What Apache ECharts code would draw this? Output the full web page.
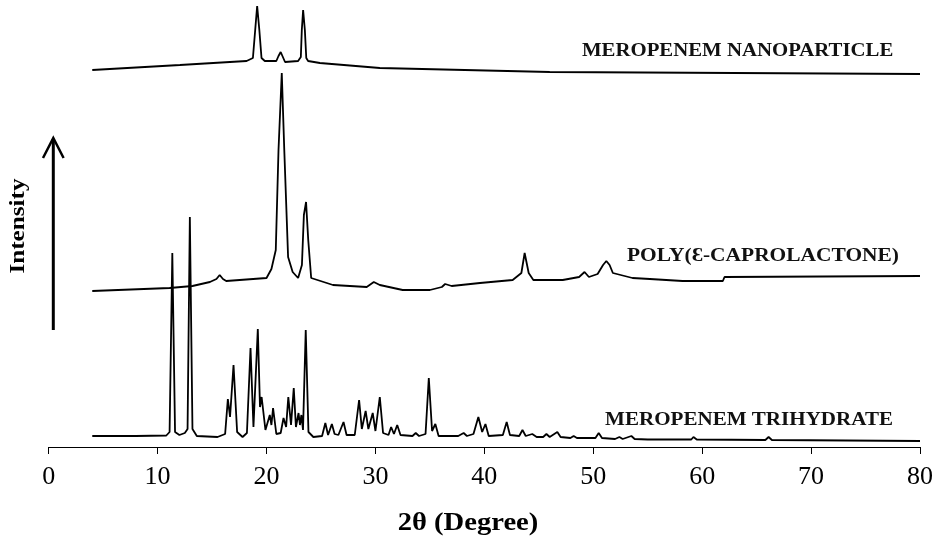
<!DOCTYPE html>
<html>
<head>
<meta charset="utf-8">
<script src="https://cdn.jsdelivr.net/npm/echarts@6/dist/echarts.min.js"></script>
<style>
html,body{margin:0;padding:0;background:#fff;}
#chart{width:936px;height:541px;}
</style>
</head>
<body>
<div id="chart"></div>
<script>
// x-axis ticks (2θ, degree)
var xTicks = [0, 10, 20, 30, 40, 50, 60, 70, 80];

// [2θ, intensity (arb. units, stacked offset)]
var trihydrate = [
  [4.0,11],[8.0,11],[10.8,11.5],[11.1,15],[11.35,194],[11.6,15],[12.0,12],[12.5,14],[12.75,18],[12.96,230],
  [13.2,18],[13.6,11],[15.5,10],[16.2,13],[16.45,48],[16.65,30],[16.97,82],[17.3,15],[17.8,10],[18.2,14],
  [18.53,99],[18.8,20],[19.2,118],[19.4,40],[19.55,50],[19.9,17],[20.3,32],[20.45,22],[20.6,39],[20.9,13],
  [21.3,14],[21.56,29],[21.8,20],[22.0,50],[22.25,22],[22.5,59],[22.7,20],[22.94,34],[23.07,22],[23.2,32],
  [23.35,17],[23.6,117],[23.85,15],[24.3,10],[25.1,11],[25.4,24],[25.65,12],[26.0,23],[26.25,13],[26.6,12],
  [27.07,25],[27.35,12],[28.1,12],[28.5,47],[28.75,18],[29.1,36],[29.35,18],[29.75,34],[30.0,16],[30.4,50],
  [30.7,14],[31.2,12],[31.44,20],[31.7,13],[32.0,22],[32.3,12],[33.4,11],[33.7,14],[34.0,11],[34.6,13],
  [34.9,69],[35.2,16],[35.5,23],[35.8,11],[37.6,11],[38.1,14],[38.4,11],[39.0,13],[39.45,30],[39.8,15],
  [40.1,23],[40.4,11],[41.7,12],[42.05,25],[42.35,12],[43.2,11],[43.5,17],[43.8,11],[44.4,13],[44.8,10],
  [45.4,10],[45.7,13],[46.0,10],[46.7,15],[47.0,10],[47.9,9],[48.2,11],[48.5,9],[50.2,9],[50.5,14],
  [50.8,9],[52.0,8],[52.4,10],[52.7,8],[53.5,11],[53.8,8],[55.0,7.5],[59.0,7.5],[59.2,10],[59.5,7.5],
  [65.8,7],[66.1,10],[66.4,7],[80.0,6]
];

var polyCaprolactone = [
  [4.0,156],[11.1,159],[13.2,161],[14.8,165],[15.4,168],[15.7,172],[16.0,168],[16.3,166],[20.0,169],[20.45,178],
  [20.85,197],[21.1,297],[21.4,374],[21.63,297],[21.98,190],[22.4,175],[22.9,169],[23.25,182],[23.43,232],[23.63,245],
  [23.83,207],[24.1,169],[26.1,162],[29.2,160],[29.85,165],[30.4,162],[32.5,157],[35.0,157],[36.1,160],[36.4,163],
  [37.0,161],[39.6,164],[42.6,167],[43.4,174],[43.7,194],[44.07,174],[44.5,167],[47.2,167],[48.7,170],[49.2,175],
  [49.6,170],[50.4,173],[50.9,182],[51.2,186],[51.5,182],[51.8,174],[53.6,169],[55.2,168],[58.2,166],[61.9,166],
  [62.05,170],[80.0,171]
];

var nanoparticle = [
  [4.0,377],[12.05,382],[18.17,386],[18.75,389],[18.96,417],[19.14,441],[19.34,417],[19.54,389],[19.84,386],[20.9,386],
  [21.1,391],[21.3,395],[21.5,390],[21.7,385],[22.9,386],[23.15,390],[23.24,417],[23.36,437],[23.52,417],[23.65,389],
  [23.82,386],[24.9,384],[30.4,379],[46.0,375],[80.0,373]
];

var seriesNames = ['MEROPENEM TRIHYDRATE', 'POLY(Ɛ-CAPROLACTONE)', 'MEROPENEM NANOPARTICLE'];

var chart = echarts.init(document.getElementById('chart'), null, {renderer: 'canvas'});
var serif = '"Liberation Serif", "Times New Roman", serif';

function lineSeries(name, data) {
  return {
    name: name, type: 'line', data: data, symbol: 'none', clip: false,
    lineStyle: {color: '#000', width: 1.8}, animation: false, z: 3
  };
}

function label(text, x, y, sx, size) {
  return {
    type: 'text', x: x, y: y, scaleX: sx, z: 10,
    style: {text: text, font: 'bold ' + size + 'px ' + serif, fill: '#111',
            align: 'left', verticalAlign: 'middle', textAlign: 'left', textVerticalAlign: 'middle'}
  };
}

chart.setOption({
  backgroundColor: '#fff',
  animation: false,
  grid: {left: 48.7, right: 15.3, top: 0, bottom: 94, containLabel: false},
  xAxis: {
    type: 'value', min: xTicks[0], max: xTicks[xTicks.length - 1], interval: 10,
    axisLine: {show: true, onZero: false, lineStyle: {color: '#000', width: 1}},
    axisTick: {show: true, inside: false, length: 7, lineStyle: {color: '#000', width: 1}},
    axisLabel: {fontFamily: serif, fontSize: 26, color: '#000', margin: 17},
    splitLine: {show: false}
  },
  yAxis: {
    type: 'value', min: 0, max: 447, show: false,
    splitLine: {show: false}
  },
  series: [
    lineSeries(seriesNames[0], trihydrate),
    lineSeries(seriesNames[1], polyCaprolactone),
    lineSeries(seriesNames[2], nanoparticle)
  ],
  graphic: [
    label(seriesNames[2], 582, 51, 1.155, 18),
    label(seriesNames[1], 627, 256, 1.19, 18),
    label(seriesNames[0], 605, 420, 1.17, 18),
    {
      type: 'text', x: 19, y: 226, rotation: Math.PI / 2, scaleX: 1.2, z: 10,
      style: {text: 'Intensity', font: 'bold 21px ' + serif, fill: '#000',
              align: 'center', verticalAlign: 'middle', textAlign: 'center', textVerticalAlign: 'middle'}
    },
    {
      type: 'text', x: 468, y: 523, scaleX: 1.1, z: 10,
      style: {text: '2θ (Degree)', font: 'bold 26px ' + serif, fill: '#000',
              align: 'center', verticalAlign: 'middle', textAlign: 'center', textVerticalAlign: 'middle'}
    },
    {
      type: 'polyline', z: 10,
      shape: {points: [[53.3, 139], [53.3, 330]]},
      style: {stroke: '#000', lineWidth: 3, fill: null}
    },
    {
      type: 'polyline', z: 10,
      shape: {points: [[43, 158], [53.3, 138], [63.6, 158]]},
      style: {stroke: '#000', lineWidth: 2.5, fill: null, lineJoin: 'miter'}
    }
  ]
});
</script>
</body>
</html>
